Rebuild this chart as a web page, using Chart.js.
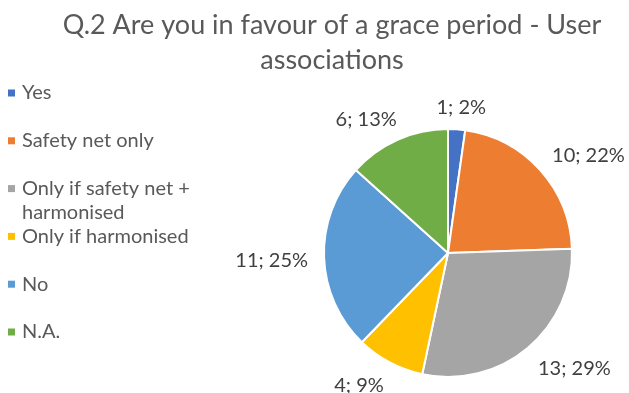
<!DOCTYPE html>
<html>
<head>
<meta charset="utf-8">
<script src="https://cdn.jsdelivr.net/npm/chart.js@4/dist/chart.umd.min.js"></script>
<style>html, body { margin: 0; padding: 0; background: #fff; }</style>
</head>
<body>
<canvas id="myChart" width="629" height="393"></canvas>
<script>
const labels = ['Yes', 'Safety net only', 'Only if safety net + harmonised', 'Only if harmonised', 'No', 'N.A.'];
const legendLines = [['Yes'], ['Safety net only'], ['Only if safety net +', 'harmonised'], ['Only if harmonised'], ['No'], ['N.A.']];
const counts = [1, 10, 13, 4, 11, 6];
const percents = [2, 22, 29, 9, 25, 13];
const colors = ['#4472C4', '#ED7D31', '#A5A5A5', '#FFC000', '#5B9BD5', '#70AD47'];
const titleLines = ['Q.2 Are you in favour of a grace period - User', 'associations'];

// title, left legend and outside labels drawn on top of the pie
const decor = {
  id: 'decor',
  afterDraw(chart) {
    const ctx = chart.ctx;
    ctx.save();

    ctx.fillStyle = '#595959';
    ctx.font = '27px Lato';
    ctx.textAlign = 'center';
    ctx.textBaseline = 'alphabetic';
    titleLines.forEach((t, i) => ctx.fillText(t, 332, 34 + i * 35));

    ctx.textBaseline = 'middle';
    ctx.font = '20px Lato';
    ctx.textAlign = 'left';
    legendLines.forEach((lines, i) => {
      const y = 93 + i * 47.8;
      ctx.fillStyle = colors[i];
      ctx.fillRect(8, y - 3.5, 7, 7);
      ctx.fillStyle = '#595959';
      lines.forEach((l, j) => ctx.fillText(l, 22, y + j * 24));
    });

    const meta = chart.getDatasetMeta(0);
    ctx.fillStyle = '#404040';
    ctx.textAlign = 'center';
    meta.data.forEach((arc, i) => {
      const mid = (arc.startAngle + arc.endAngle) / 2;
      const txt = counts[i] + '; ' + percents[i] + '%';
      const w = ctx.measureText(txt).width;
      const r = arc.outerRadius + 16;
      const c = Math.cos(mid), s = Math.sin(mid);
      const x = arc.x + c * r + Math.sign(c) * Math.min(1, Math.abs(c) * 2) * w / 2;
      const y = arc.y + s * r + s * 8 + 2;
      ctx.fillText(txt, x, y);
    });
    ctx.restore();
  }
};

const ctx = document.getElementById('myChart').getContext('2d');

const myChart = new Chart(ctx, {
  type: 'pie',
  data: {
    labels: labels,
    datasets: [{
      data: counts,
      backgroundColor: colors,
      borderColor: '#ffffff',
      borderWidth: 2
    }]
  },
  options: {
    responsive: false,
    animation: false,
    layout: { padding: { left: 323, right: 56, top: 128, bottom: 15 } },
    plugins: {
      legend: { display: false },
      tooltip: { enabled: false }
    }
  },
  plugins: [decor]
});
</script>
</body>
</html>
